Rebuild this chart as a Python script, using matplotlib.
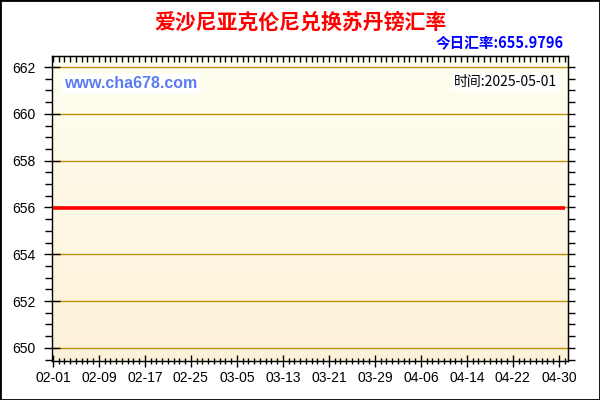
import numpy as np
import matplotlib
matplotlib.use("Agg")
import matplotlib.pyplot as plt
from matplotlib.ticker import MultipleLocator, FixedLocator
from matplotlib.patches import Rectangle

# data: one point per day from 02-01 to 05-01 (day index 0..89)
days = list(range(90))
rates = [655.9796] * 90
tick_days = [0, 8, 16, 24, 32, 40, 48, 56, 64, 72, 80, 88]
tick_labels = ["02-01", "02-09", "02-17", "02-25", "03-05", "03-13",
               "03-21", "03-29", "04-06", "04-14", "04-22", "04-30"]
y_ticks = [650, 652, 654, 656, 658, 660, 662]

title = "爱沙尼亚克伦尼兑换苏丹镑汇率"
today_text = "今日汇率:655.9796"
site_text = "www.cha678.com"
time_text = "时间:2025-05-01"

plt.rcParams["font.family"] = ["Liberation Sans", "Noto Sans CJK SC", "DejaVu Sans"]
cjk = ["Noto Sans CJK SC", "DejaVu Sans"]

fig = plt.figure(figsize=(6, 4), dpi=100)
fig.patch.set_facecolor("white")
ax = fig.add_axes([0.0862, 0.0975, 0.8605, 0.7625])

xmin, xmax = -0.2, 89.6
ymin, ymax = 649.44, 662.47

# vertical gradient background, light at top, warmer at bottom
grad = np.linspace(0, 1, 256).reshape(-1, 1)
top = np.array([1.0, 1.0, 0.945])
bot = np.array([0.992, 0.945, 0.847])
img = top + (bot - top) * grad[:, :, None]
ax.imshow(img, extent=[xmin, xmax, ymin, ymax], origin="upper",
          aspect="auto", zorder=0)
ax.set_xlim(xmin, xmax)
ax.set_ylim(ymin, ymax)

for y in y_ticks:
    ax.axhline(y, color="#b8900a", linewidth=1.0, zorder=1)

ax.plot(days, rates, color="#ff0000", linewidth=2.6, zorder=3,
        solid_capstyle="butt")

# ticks
ax.xaxis.set_major_locator(FixedLocator(tick_days))
ax.set_xticklabels(tick_labels)
ax.xaxis.set_minor_locator(MultipleLocator(1))
ax.yaxis.set_major_locator(FixedLocator(y_ticks))
ax.yaxis.set_minor_locator(MultipleLocator(0.5))

ax.tick_params(axis="x", which="major", direction="inout", length=8,
               width=1, pad=3, labelsize=10, top=False)
ax.tick_params(axis="x", which="minor", direction="inout", length=5,
               width=1, top=False)
ax.tick_params(axis="y", which="major", direction="inout", length=11,
               width=1, pad=6, labelsize=10)
ax.tick_params(axis="y", which="minor", direction="out", length=5, width=1)

# secondary axes for top/right ticks
secx = ax.secondary_xaxis("top")
secx.xaxis.set_major_locator(MultipleLocator(1))
secx.tick_params(axis="x", direction="in", length=4, width=1, labeltop=False)
secy = ax.secondary_yaxis("right")
secy.yaxis.set_major_locator(FixedLocator(y_ticks))
secy.yaxis.set_minor_locator(MultipleLocator(0.5))
secy.tick_params(axis="y", which="major", direction="out", length=5,
                 width=1, labelright=False)
secy.tick_params(axis="y", which="minor", direction="out", length=5,
                 width=1, labelright=False)

for s in ax.spines.values():
    s.set_linewidth(1)
    s.set_color("black")

# texts
fig.text(0.5, 0.945, title, color="#ff0000", fontsize=15, fontweight="bold",
         ha="center", va="center", family=cjk)
fig.text(0.94, 0.892, today_text, color="#0000ff", fontsize=10.5,
         fontweight="bold", ha="right", va="center", family=cjk)
fig.text(0.107, 0.79, site_text, color="#5b7cf0", fontsize=11.5,
         fontweight="bold", ha="left", va="center", family="Liberation Sans",
         bbox=dict(boxstyle="square,pad=0.15", fc="white", ec="none"))
fig.text(0.928, 0.795, time_text, color="black", fontsize=10,
         ha="right", va="center", family=cjk,
         bbox=dict(boxstyle="square,pad=0.15", fc="white", ec="none"))

# outer border
fig.patches.append(Rectangle((0, 0), 1, 1, transform=fig.transFigure,
                             fill=False, edgecolor="black", linewidth=2))

fig.savefig("out.png", dpi=100)
